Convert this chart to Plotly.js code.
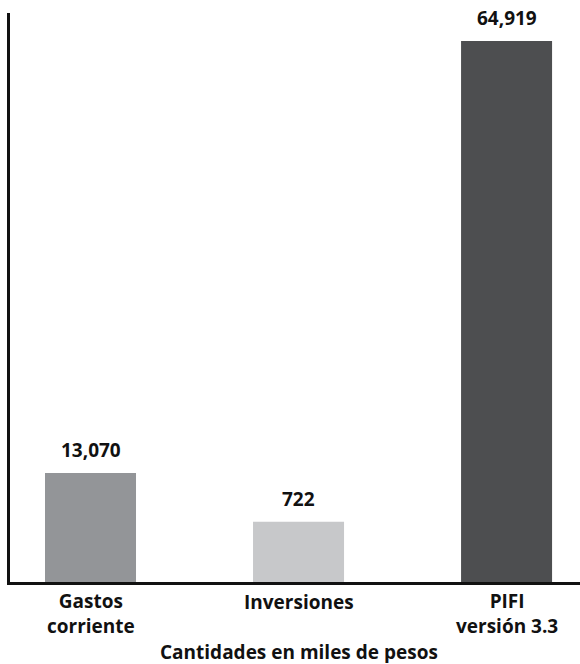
<!DOCTYPE html>
<html>
<head>
<meta charset="utf-8">
<script src="https://cdn.plot.ly/plotly-3.0.1.min.js"></script>
<style>html,body{margin:0;padding:0;background:#fff;}#chart{width:580px;height:664px;}</style>
</head>
<body>
<div id="chart"></div>
<script>
// Category labels (tick labels)
const categories = ["Gastos<br>corriente", "Inversiones", "PIFI<br>versión 3.3"];
// Bar heights as drawn in the reference (the middle bar is drawn at about 7,220)
const barHeights = [13070, 7220, 64919];
// Value labels printed above the bars
const valueLabels = ["13,070", "722", "64,919"];
const axisTitle = "Cantidades en miles de pesos";
const barColors = ["#939598", "#c7c8ca", "#4d4e50"];
const xPos = [0, 1, 2];

const font = "'Open Sans', 'Noto Sans', sans-serif";
const txt = (size) => ({ family: font, size: size, color: "#111", weight: 700 });

const trace = {
  type: "bar",
  x: xPos,
  y: barHeights,
  width: 0.4375,
  marker: { color: barColors, line: { width: 0 } },
  hoverinfo: "none"
};

const annotations = [];
xPos.forEach((x, i) => {
  annotations.push({
    x: x, y: barHeights[i], xref: "x", yref: "y",
    text: valueLabels[i], showarrow: false,
    xanchor: "center", yanchor: "middle", yshift: 23,
    font: txt(19)
  });
  const twoLines = categories[i].indexOf("<br>") >= 0;
  annotations.push({
    x: x, y: 0, xref: "x", yref: "paper",
    text: categories[i], showarrow: false,
    xanchor: "center", yanchor: "middle",
    yshift: twoLines ? -31 : -20,
    font: txt(19)
  });
});
annotations.push({
  x: 1, y: 0, xref: "x", yref: "paper",
  text: axisTitle, showarrow: false,
  xanchor: "center", yanchor: "middle", yshift: -70,
  height: 22, valign: "middle",
  font: txt(19)
});

const layout = {
  width: 580,
  height: 664,
  margin: { l: 10, r: 0, t: 13, b: 82 },
  paper_bgcolor: "#ffffff",
  plot_bgcolor: "#ffffff",
  showlegend: false,
  annotations: annotations,
  xaxis: {
    range: [-0.387, 2.353],
    showticklabels: false,
    ticks: "",
    showline: true,
    linecolor: "#111",
    linewidth: 3,
    showgrid: false,
    zeroline: false
  },
  yaxis: {
    range: [0, 68280],
    showline: true,
    linecolor: "#111",
    linewidth: 3,
    showgrid: false,
    zeroline: false,
    showticklabels: false,
    ticks: ""
  }
};

Plotly.newPlot("chart", [trace], layout, { displayModeBar: false, staticPlot: true });
</script>
</body>
</html>
